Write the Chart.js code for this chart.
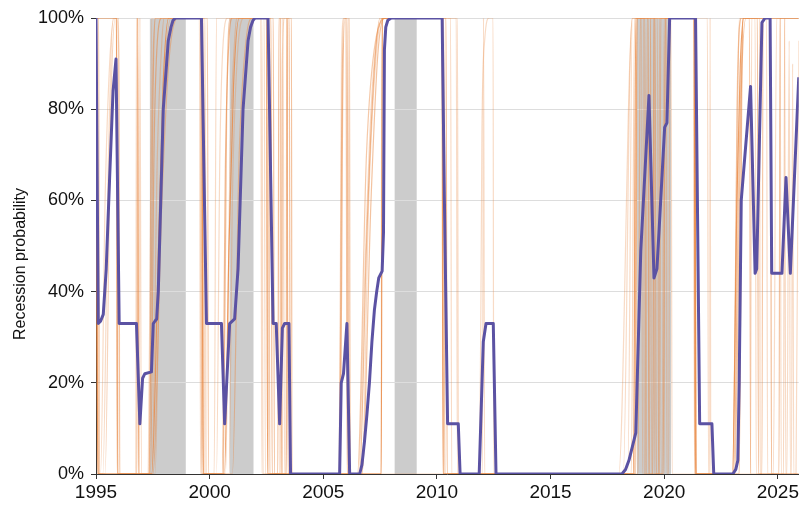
<!DOCTYPE html>
<html>
<head>
<meta charset="utf-8">
<script src="https://cdn.jsdelivr.net/npm/chart.js@4.4.1/dist/chart.umd.min.js"></script>
<style>
  body { margin: 0; background: #fff; }
  #wrap { width: 801px; height: 506px; }
</style>
</head>
<body>
<div id="wrap"><canvas id="recChart" width="801" height="506"></canvas></div>
<script>
// recession periods (shaded)
const recessionStart = [1997.37, 2000.88, 2008.14, 2018.8];
const recessionEnd = [1998.95, 2001.93, 2009.11, 2020.3];

// x tick labels
const yearTicks = [1995, 2000, 2005, 2010, 2015, 2020, 2025];
const yTitle = 'Recession probability';

// main model (purple)
const purpleYears = [
  1995.0, 1995.1, 1995.2, 1995.32, 1995.45, 1995.6, 1995.75, 1995.88, 1996.02, 1996.78,
  1996.93, 1997.05, 1997.15, 1997.44, 1997.52, 1997.59, 1997.67, 1997.74, 1997.96, 1998.18,
  1998.3, 1998.39, 1998.5, 1998.61, 1999.64, 1999.86, 2000.52, 2000.66, 2000.88, 2001.1,
  2001.25, 2001.47, 2001.69, 2001.8, 2001.91, 2002.0, 2002.57, 2002.79, 2002.93, 2003.08,
  2003.2, 2003.3, 2003.49, 2003.56, 2005.72, 2005.79, 2005.89, 2006.04, 2006.16, 2006.6,
  2006.7, 2006.81, 2006.92, 2007.03, 2007.14, 2007.25, 2007.35, 2007.44, 2007.59, 2007.65,
  2007.69, 2007.75, 2007.84, 2007.99, 2010.23, 2010.33, 2010.47, 2010.94, 2011.02, 2011.86,
  2012.04, 2012.16, 2012.48, 2012.6, 2018.14, 2018.3, 2018.45, 2018.6, 2018.75, 2018.97,
  2019.33, 2019.55, 2019.68, 2019.77, 2020.02, 2020.12, 2020.24, 2021.38, 2021.56, 2022.1,
  2022.18, 2023.02, 2023.15, 2023.24, 2023.3, 2023.39, 2023.8, 2024.0, 2024.07, 2024.3,
  2024.44, 2024.66, 2024.73, 2025.18, 2025.36, 2025.55, 2025.92
];
const purpleProb = [
  100, 33, 33.5, 35, 45, 65, 84, 91, 33, 33,
  11, 21, 22, 22.4, 33, 33.5, 34, 40, 80, 95,
  98, 99.5, 100, 100, 100, 33, 33, 11, 33, 34,
  45, 80, 95, 98, 99.5, 100, 100, 33, 33, 11,
  32, 33, 33, 0, 0, 20, 22, 33, 0, 0,
  2, 7, 13, 20, 29, 36, 40, 43, 44.5, 53,
  93, 98, 99.5, 100, 100, 60, 11, 11, 0, 0,
  29, 33, 33, 0, 0, 1, 3, 6, 9, 49,
  83, 43, 45, 53, 76, 77, 100, 100, 11, 11,
  0, 0, 1, 3, 20, 60, 85, 44, 45, 99,
  100, 100, 44, 44, 65, 44, 87
];

// ensemble members (orange), [year, prob]
const orangeA = [[1995,100],[1995.08,0],[1997.45,0],[1997.75,50],[1997.95,85],[1998.2,100],[1999.65,100],[1999.72,0],[2000.65,0],[2000.85,50],[2001.05,85],[2001.3,100],[2002.5,100],[2002.55,0],[2007.55,0],[2007.6,100],[2010.22,100],[2010.27,0],[2018.65,0],[2018.75,100],[2021.32,100],[2021.37,0],[2023.0,0],[2023.2,60],[2023.35,90],[2023.5,100],[2025.92,100]];
const orangeB = [[1995,100],[1995.9,100],[1995.95,0],[1996.8,0],[1996.83,100],[1996.88,0],[1997.4,0],[1997.55,70],[1997.7,95],[1997.9,100],[1999.6,100],[1999.65,0],[2000.55,0],[2000.7,70],[2000.85,95],[2001.0,100],[2002.7,100],[2002.75,0],[2003.0,0],[2003.05,100],[2003.4,100],[2003.45,0],[2005.75,0],[2005.85,80],[2005.95,100],[2006.05,100],[2006.1,0],[2006.6,0],[2006.9,50],[2007.2,85],[2007.5,100],[2010.4,100],[2010.45,0],[2018.7,0],[2018.8,100],[2019.3,100],[2019.32,0],[2019.5,0],[2019.55,100],[2021.35,100],[2021.4,0],[2023.3,0],[2023.45,100],[2024.68,100],[2024.72,0],[2025.92,0]];
const orangeC = [[1995,100],[1995.05,100],[1995.12,0],[1995.2,0],[1995.4,60],[1995.6,90],[1995.8,100],[1995.92,100],[1995.97,0],[1997.3,0],[1997.4,60],[1997.5,90],[1997.65,100],[1999.8,100],[1999.85,0],[2000.3,0],[2000.45,70],[2000.6,95],[2000.8,100],[2002.3,100],[2002.35,0],[2003.15,0],[2003.2,90],[2003.3,100],[2003.5,100],[2003.55,0],[2005.7,0],[2005.8,90],[2005.9,100],[2006.15,100],[2006.2,0],[2006.55,0],[2006.8,40],[2007.1,80],[2007.4,97],[2007.7,100],[2010.9,100],[2010.95,0],[2011.88,0],[2011.98,75],[2012.1,95],[2012.3,100],[2012.47,100],[2012.5,0],[2018.2,0],[2018.5,90],[2018.6,100],[2019.7,100],[2019.75,0],[2020.0,0],[2020.05,100],[2021.9,100],[2021.95,0],[2023.0,0],[2023.25,90],[2023.4,100],[2025.3,100],[2025.35,0],[2025.8,0],[2025.92,95]];
const orangeD = [[1995,100],[1995.1,0],[1995.3,0],[1995.55,70],[1995.75,100],[1995.9,100],[1996.0,93],[1996.03,0],[1996.9,0],[1996.93,100],[1997.0,0],[1997.6,0],[1997.8,50],[1998.0,85],[1998.3,100],[1999.75,100],[1999.8,0],[2000.85,0],[2001.0,60],[2001.2,90],[2001.5,100],[2002.4,100],[2002.45,0],[2003.35,0],[2003.4,100],[2003.5,100],[2003.55,0],[2006.1,0],[2006.12,100],[2006.17,0],[2006.7,0],[2007.0,60],[2007.3,90],[2007.6,100],[2010.6,100],[2010.65,0],[2012.0,0],[2012.05,100],[2012.1,0],[2018.4,0],[2018.6,100],[2019.0,100],[2019.05,0],[2019.2,0],[2019.25,100],[2020.3,100],[2020.35,0],[2023.1,0],[2023.3,100],[2024.0,100],[2024.05,0],[2024.8,0],[2024.95,100],[2025.1,100],[2025.15,0],[2025.6,0],[2025.65,90],[2025.7,0],[2025.92,0]];
const orangeE = [[1995,100],[1995.12,100],[1995.15,0],[1997.5,0],[1997.9,60],[1998.2,90],[1998.6,100],[1999.9,100],[1999.95,0],[2001.0,0],[2001.3,70],[2001.6,95],[2001.9,100],[2002.6,100],[2002.65,0],[2003.1,0],[2003.12,100],[2003.18,0],[2006.5,0],[2006.9,70],[2007.3,95],[2007.8,100],[2010.25,100],[2010.3,0],[2018.85,0],[2018.95,100],[2019.15,100],[2019.2,0],[2019.8,0],[2019.85,100],[2021.35,100],[2021.4,0],[2023.05,0],[2023.3,70],[2023.5,100],[2023.75,100],[2023.8,0],[2024.3,0],[2024.35,100],[2025.92,100]];
const orangeF = [[1995,100],[1995.05,0],[1996.75,0],[1996.78,100],[1996.85,100],[1996.88,0],[1997.35,0],[1997.45,100],[1999.55,100],[1999.6,0],[2000.2,0],[2000.3,100],[2002.25,100],[2002.3,0],[2003.2,0],[2003.22,100],[2003.3,0],[2007.55,0],[2007.57,100],[2010.85,100],[2010.9,0],[2018.0,0],[2018.6,100],[2019.4,100],[2019.45,0],[2019.9,0],[2020.0,100],[2021.3,100],[2021.33,0],[2022.0,0],[2022.02,100],[2022.05,0],[2023.8,0],[2023.85,100],[2024.5,100],[2024.55,0],[2025.4,0],[2025.5,95],[2025.55,0],[2025.92,0]];
const orangeG = [[1995,100],[1995.9,100],[1995.93,0],[1997.35,0],[1997.5,80],[1997.6,100],[1999.65,100],[1999.7,0],[2000.6,0],[2000.75,80],[2000.9,100],[2002.8,100],[2002.85,0],[2003.38,0],[2003.42,100],[2003.6,100],[2003.62,0],[2005.72,0],[2005.8,70],[2005.9,100],[2006.0,100],[2006.05,0],[2006.7,0],[2007.1,60],[2007.4,92],[2007.7,100],[2010.3,100],[2010.35,0],[2018.75,0],[2018.8,100],[2019.6,100],[2019.65,0],[2019.95,0],[2020.05,100],[2021.35,100],[2021.4,0],[2023.1,0],[2023.4,85],[2023.6,100],[2024.1,100],[2024.15,0],[2025.05,0],[2025.1,100],[2025.92,100]];
const orangeH = [[1995,100],[1995.1,0],[1995.4,0],[1995.65,80],[1995.85,100],[1996.0,100],[1996.05,0],[1997.45,0],[1997.7,70],[1997.9,95],[1998.0,100],[1999.7,100],[1999.75,0],[2000.7,0],[2000.9,70],[2001.1,95],[2001.2,100],[2002.55,100],[2002.6,0],[2018.55,0],[2018.7,100],[2019.1,100],[2019.12,0],[2019.35,0],[2019.4,100],[2019.55,100],[2019.58,0],[2019.75,0],[2019.8,100],[2020.1,100],[2020.12,0],[2020.2,0],[2020.25,100],[2021.3,100],[2021.35,0],[2023.05,0],[2023.2,80],[2023.4,100],[2024.2,100],[2024.22,0],[2025.25,0],[2025.3,100],[2025.92,100]];

const orangeSeries = [orangeA, orangeB, orangeC, orangeD, orangeE, orangeF, orangeG, orangeH];
const orangeAlpha = [0.8, 0.55, 0.3, 0.3, 0.45, 0.3, 0.5, 0.35];

const fontFamily = "'Liberation Sans', Arial, Helvetica, sans-serif";
Chart.defaults.font.family = fontFamily;
Chart.defaults.color = '#111';

// grey recession bands under everything
const recessionShading = {
  id: 'recessionShading',
  beforeDraw(chart) {
    const { ctx, chartArea, scales } = chart;
    ctx.save();
    ctx.fillStyle = '#cccccc';
    recessionStart.forEach((s, i) => {
      const x0 = scales.x.getPixelForValue(s);
      const x1 = scales.x.getPixelForValue(recessionEnd[i]);
      ctx.fillRect(x0, chartArea.top, x1 - x0, chartArea.bottom - chartArea.top);
    });
    ctx.restore();
  }
};

// y axis title, placed a bit below the axis centre like the original
const yAxisTitle = {
  id: 'yAxisTitle',
  afterDraw(chart) {
    const { ctx, chartArea } = chart;
    ctx.save();
    ctx.translate(21, (chartArea.top + chartArea.bottom) / 2 + 18);
    ctx.rotate(-Math.PI / 2);
    ctx.font = '16px ' + fontFamily;
    ctx.fillStyle = '#111';
    ctx.textAlign = 'center';
    ctx.textBaseline = 'middle';
    ctx.fillText(yTitle, 0, 0);
    ctx.restore();
  }
};

const datasets = [{
  label: 'Model',
  data: purpleYears.map((y, i) => ({ x: y, y: purpleProb[i] })),
  borderColor: '#5b52a3',
  borderWidth: 3,
  pointRadius: 0,
  tension: 0,
  borderJoinStyle: 'round'
}];
orangeSeries.forEach((s, i) => {
  datasets.push({
    label: 'member ' + (i + 1),
    data: s.map(p => ({ x: p[0], y: p[1] })),
    borderColor: 'rgba(232,135,65,' + orangeAlpha[i] + ')',
    borderWidth: 1.2,
    pointRadius: 0,
    cubicInterpolationMode: 'monotone'
  });
});

new Chart(document.getElementById('recChart').getContext('2d'), {
  type: 'line',
  data: { datasets: datasets },
  options: {
    responsive: false,
    animation: false,
    layout: { padding: { top: 18, right: 1, left: 0, bottom: 0 } },
    plugins: { legend: { display: false }, tooltip: { enabled: false } },
    scales: {
      x: {
        type: 'linear',
        min: 1995,
        max: 2025.92,
        afterFit: s => { s.height = 32; },
        afterBuildTicks: s => { s.ticks = yearTicks.map(v => ({ value: v })); },
        grid: { drawOnChartArea: false, drawTicks: true, tickLength: 5, tickColor: '#333' },
        border: { display: true, color: '#333', width: 1 },
        ticks: {
          padding: 2,
          maxRotation: 0,
          font: { size: 19 },
          callback: v => String(v)
        }
      },
      y: {
        min: 0,
        max: 100,
        afterFit: s => { s.width = 96; },
        grid: { color: '#dddddd', lineWidth: 1, tickLength: 5, tickColor: '#333' },
        border: { display: true, color: '#333', width: 1 },
        ticks: {
          stepSize: 20,
          padding: 7,
          font: { size: 18 },
          callback: v => v + '%'
        }
      }
    }
  },
  plugins: [recessionShading, yAxisTitle]
});
</script>
</body>
</html>
